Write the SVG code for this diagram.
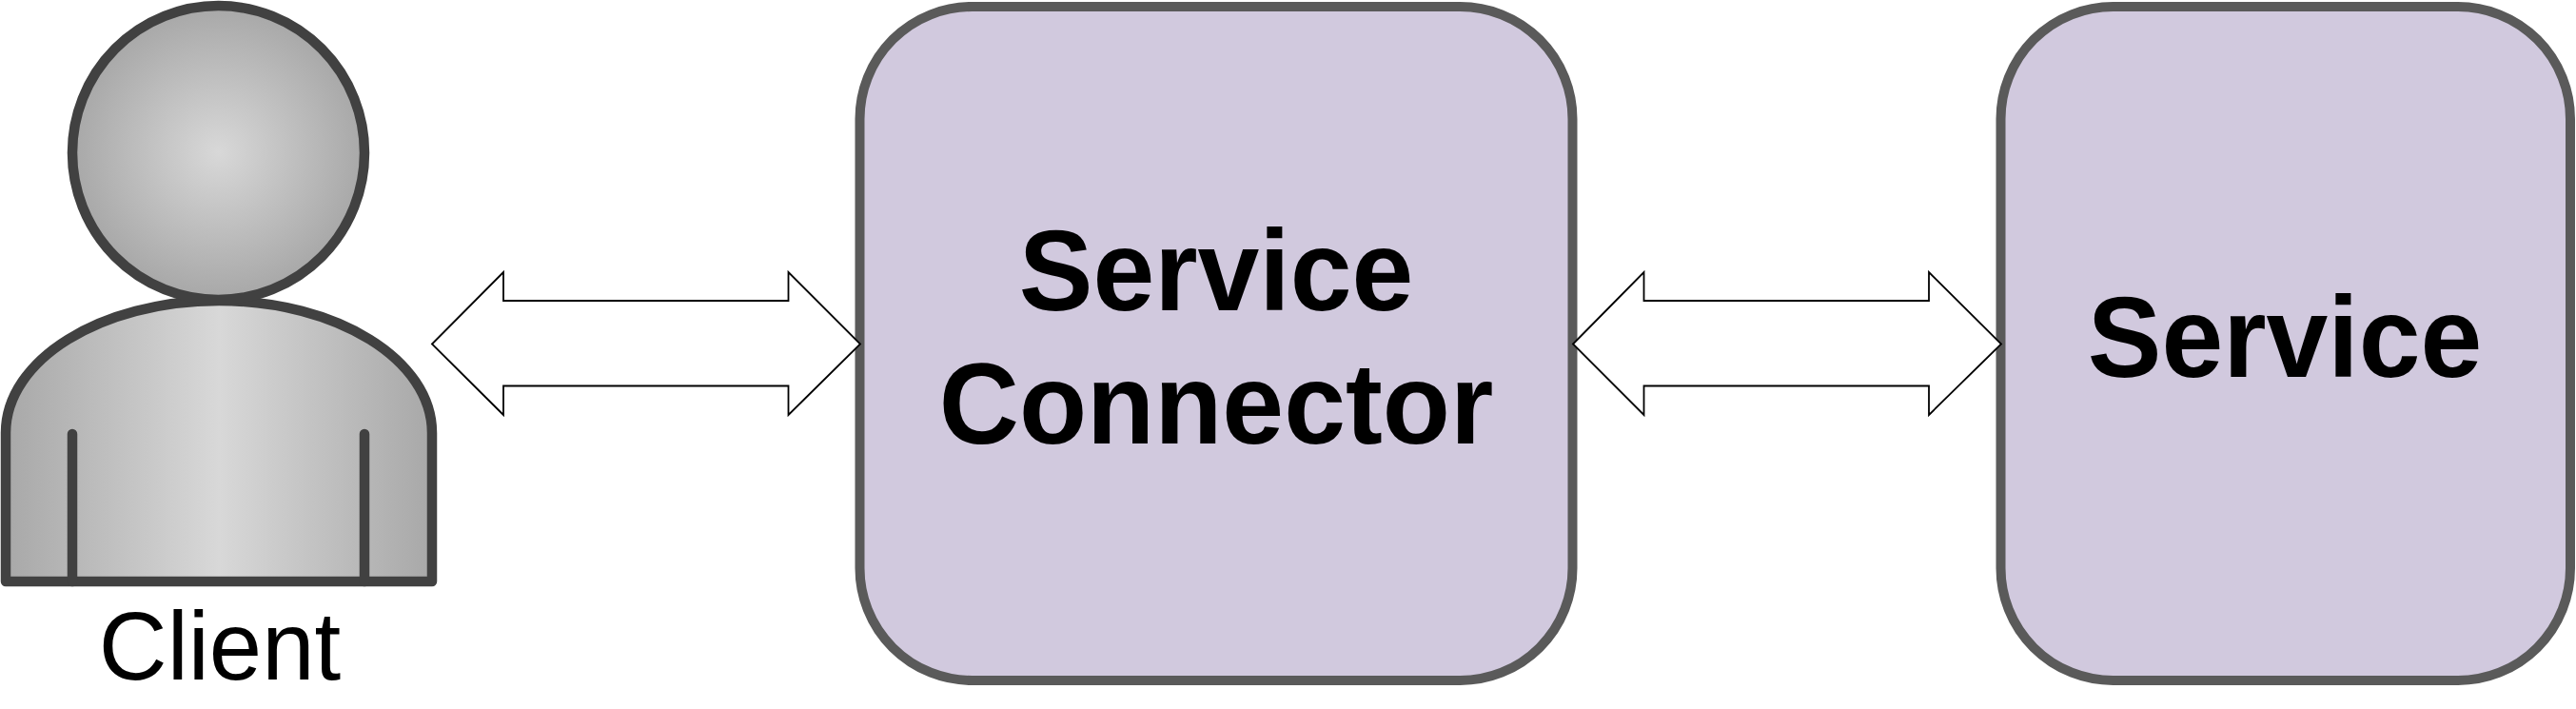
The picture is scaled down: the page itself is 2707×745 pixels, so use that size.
<svg xmlns="http://www.w3.org/2000/svg" width="2707" height="745" viewBox="0 0 2707 745">
<style>
.fig{stroke:#414141;stroke-width:10.5;stroke-linejoin:round;stroke-linecap:round}
.box{fill:#d1c9de;stroke:#5a5a5a;stroke-width:10}
.arrow{fill:#fff;stroke:#000;stroke-width:1.8;stroke-linejoin:miter}
text{font-family:"Liberation Sans",Arial,sans-serif;fill:#000;text-anchor:middle}
.b{font-weight:700;font-size:116.5px}
.n{font-size:99.500px}
</style>
<defs>
<radialGradient id="headFill" cx="229.5" cy="160" r="153" gradientUnits="userSpaceOnUse"><stop offset="0" stop-color="#d8d8d8"/><stop offset="1" stop-color="#a8a8a8"/></radialGradient>
<linearGradient id="bodyFill" x1="6" y1="0" x2="454" y2="0" gradientUnits="userSpaceOnUse"><stop offset="0" stop-color="#a8a8a8"/><stop offset=".5" stop-color="#d8d8d8"/><stop offset="1" stop-color="#a8a8a8"/></linearGradient>
</defs>
<rect width="2707" height="745" fill="#fff"/>
<g id="client">
<path class="fig" fill="url(#bodyFill)" d="M6,611 V455 C6,378 106,316 230,316 C354,316 454,378 454,455 V611 Z"/>
<path class="fig" fill="none" d="M76,456 V611 M383,456 V611"/>
<ellipse class="fig" fill="url(#headFill)" cx="229.5" cy="160.500" rx="153.500" ry="154.500"/>
<text class="n" transform="translate(231 714) scale(1 1.02)">Client</text>
</g>
<g id="service-connector">
<rect class="box" x="903.5" y="7" width="749" height="708" rx="118" ry="118"/>
<text class="b" transform="translate(1278 326) scale(1 1.03)">Service</text>
<text class="b" transform="translate(1278 466) scale(1 1.03)">Connector</text>
</g>
<g id="service">
<rect class="box" x="2102.500" y="7" width="598.500" height="708" rx="118" ry="118"/>
<text class="b" transform="translate(2401 396) scale(1 1.03)">Service</text>
</g>
<g id="connectors">
<path id="arrow-client-connector" class="arrow" d="M454,361.500 L529,286 V316 H828.500 V286 L904,361.500 L828.500,436 V405.500 H529 V436 Z"/>
<path id="arrow-connector-service" class="arrow" d="M1653,361.500 L1727.500,286 V316 H2027 V286 L2103,361.500 L2027,436 V405.500 H1727.500 V436 Z"/>
</g>
</svg>
